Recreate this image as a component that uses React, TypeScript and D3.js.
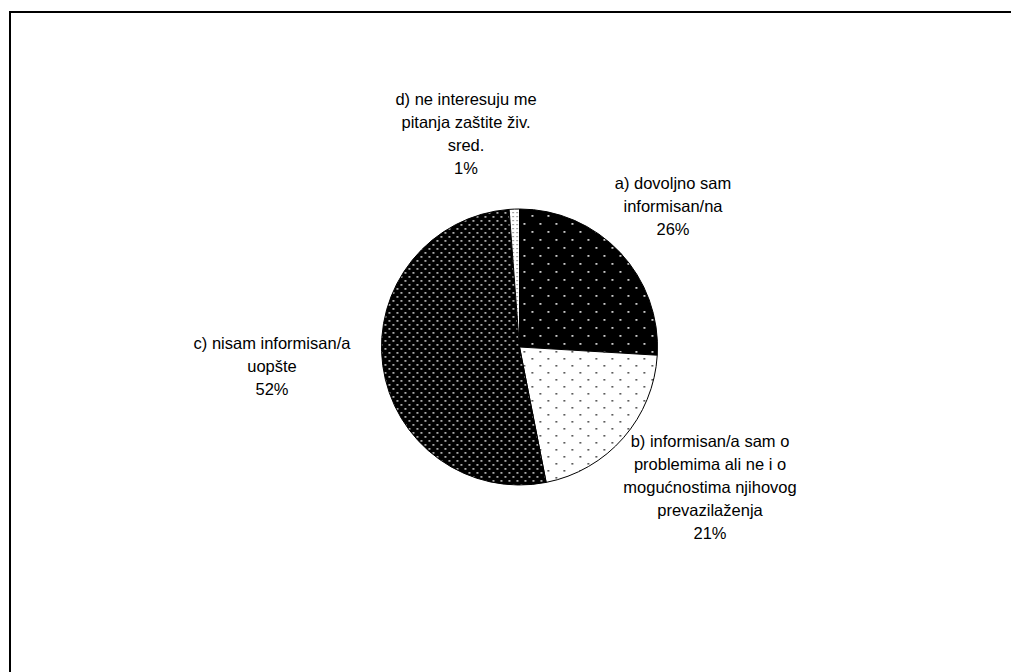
import React from "react";
import * as d3 from "d3";

const categories = [
  "a) dovoljno sam informisan/na",
  "b) informisan/a sam o problemima ali ne i o mogućnostima njihovog prevazilaženja",
  "c) nisam informisan/a uopšte",
  "d) ne interesuju me pitanja zaštite živ. sred.",
];
const values = [26, 21, 52, 1.2];
const percentLabels = ["26%", "21%", "52%", "1%"];
const labelLines = [
  ["a) dovoljno sam", "informisan/na", "26%"],
  ["b) informisan/a sam o", "problemima ali ne i o", "mogućnostima njihovog", "prevazilaženja", "21%"],
  ["c) nisam informisan/a", "uopšte", "52%"],
  ["d) ne interesuju me", "pitanja zaštite živ.", "sred.", "1%"],
];
const labelAnchors = [
  [673, 183],
  [710, 441],
  [272, 343],
  [466, 99],
];

const W = 1011;
const H = 672;
const cx = 519.5;
const cy = 347;
const R = 138;
const lineH = 23;

export default function App() {
  const pie = d3
    .pie<number>()
    .sort(null)
    .value((d) => d);
  const arcs = pie(values);
  const arc = d3.arc<d3.PieArcDatum<number>>().innerRadius(0).outerRadius(R);
  const fills = ["url(#pa)", "url(#pb)", "url(#pc)", "url(#pd)"];
  return (
    <svg
      width={W}
      height={H}
      style={{ position: "absolute", left: 0, top: 0 }}
      fontFamily="'Liberation Sans', Arial, sans-serif"
    >
      <defs>
        <pattern id="pa" width={16} height={16} patternUnits="userSpaceOnUse">
          <rect width={16} height={16} fill="#000" />
          <rect x={4} y={4} width={1.8} height={1.8} fill="#e0e0e0" />
          <rect x={12} y={12} width={1.8} height={1.8} fill="#e0e0e0" />
        </pattern>
        <pattern id="pb" width={16} height={14} patternUnits="userSpaceOnUse">
          <rect width={16} height={14} fill="#fff" />
          <rect x={4} y={4} width={1.6} height={1.6} fill="#333" />
          <rect x={12} y={11} width={1.6} height={1.6} fill="#333" />
        </pattern>
        <pattern id="pc" width={8} height={8} patternUnits="userSpaceOnUse">
          <rect width={8} height={8} fill="#000" />
          <rect x={1} y={1} width={1.8} height={1.8} fill="#bbb" />
          <rect x={5} y={5} width={1.8} height={1.8} fill="#bbb" />
        </pattern>
        <pattern id="pd" width={4} height={4} patternUnits="userSpaceOnUse">
          <rect width={4} height={4} fill="#fff" />
          <rect x={1} y={1} width={1.2} height={1.2} fill="#666" />
        </pattern>
      </defs>
      <rect x={0} y={0} width={W} height={H} fill="#fff" />
      <rect
        x={10}
        y={12}
        width={W + 20}
        height={H + 20}
        fill="none"
        stroke="#000"
        strokeWidth={2}
      />
      <g transform={`translate(${cx},${cy})`}>
        {arcs.map((a, i) => (
          <path
            key={categories[i]}
            d={arc(a) || ""}
            fill={fills[i]}
            stroke="#000"
            strokeWidth={1}
          />
        ))}
      </g>
      {labelLines.map((lines, i) => (
        <text
          key={percentLabels[i]}
          textAnchor="middle"
          fontSize={16.5}
          fill="#000"
        >
          {lines.map((l, j) => (
            <tspan
              key={j}
              x={labelAnchors[i][0]}
              y={labelAnchors[i][1] + j * lineH + 6}
            >
              {l}
            </tspan>
          ))}
        </text>
      ))}
    </svg>
  );
}
